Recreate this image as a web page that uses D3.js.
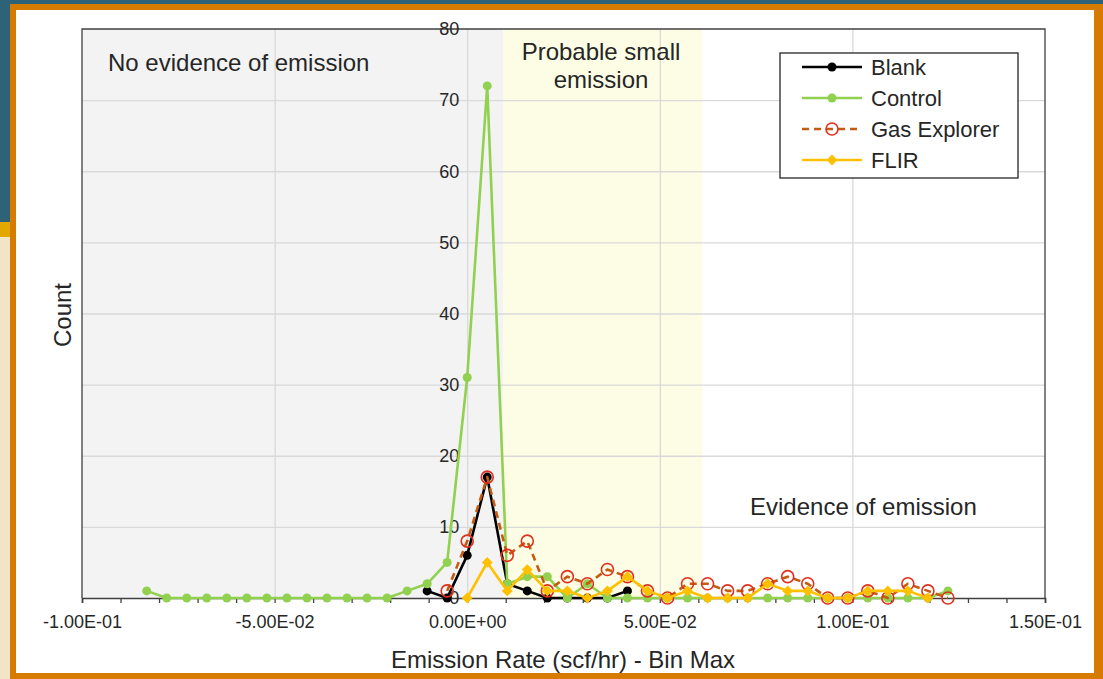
<!DOCTYPE html>
<html>
<head>
<meta charset="utf-8">
<script src="https://cdn.jsdelivr.net/npm/d3@7"></script>
<style>
	body { margin: 0; background: #2d6378; }
	text { font-family: 'Liberation Sans', Arial, sans-serif; fill: #262626; }
</style>
</head>
<body>
<div id="chart"></div>
<script>
// bin max values (scf/hr)
const binMax = [-0.0832, -0.0780, -0.0728, -0.0676, -0.0624, -0.0572, -0.0520, -0.0468, -0.0416, -0.0364,
	-0.0312, -0.0260, -0.0208, -0.0156, -0.0104, -0.0052, 0, 0.0052, 0.0104, 0.0156,
	0.0208, 0.0260, 0.0312, 0.0364, 0.0416, 0.0468, 0.0520, 0.0572, 0.0624, 0.0676,
	0.0728, 0.0780, 0.0832, 0.0884, 0.0936, 0.0988, 0.1040, 0.1092, 0.1144, 0.1196, 0.1248];

// counts per bin, null = no point
const blank = [null, null, null, null, null, null, null, null, null, null,
	null, null, null, null, 1, 0, 6, 17, 2, 1,
	0, 0, 0, 0, 1, null, null, null, null, null,
	null, null, null, null, null, null, null, null, null, null, null];
const control = [1, 0, 0, 0, 0, 0, 0, 0, 0, 0,
	0, 0, 0, 1, 2, 5, 31, 72, 2, 3,
	3, 0, 2, 0, 0, 0, 0, 0, 0, 0,
	0, 0, 0, 0, 0, 0, 0, 0, 0, 0, 1];
const gasExplorer = [null, null, null, null, null, null, null, null, null, null,
	null, null, null, null, null, 1, 8, 17, 6, 8,
	1, 3, 2, 4, 3, 1, 0, 2, 2, 1,
	1, 2, 3, 2, 0, 0, 1, 0, 2, 1, 0];
const flir = [null, null, null, null, null, null, null, null, null, null,
	null, null, null, null, null, null, 0, 5, 1, 4,
	1, 1, 0, 1, 3, 1, 0, 1, 0, 0,
	0, 2, 1, 1, 0, 0, 1, 1, 1, 0, null];

const xTicks = [-0.10, -0.05, 0, 0.05, 0.10, 0.15];
const xTickLabels = ['-1.00E-01', '-5.00E-02', '0.00E+00', '5.00E-02', '1.00E-01', '1.50E-01'];
const yTicks = [0, 10, 20, 30, 40, 50, 60, 70, 80];
const zones = [
	{ from: -0.10, to: 0.0094, color: '#f3f3f3' },
	{ from: 0.0094, to: 0.061, color: '#fdfde5' },
];

const series = [
	{ name: 'Blank', values: blank, color: '#000000', marker: 'dot' },
	{ name: 'Control', values: control, color: '#92d050', marker: 'dot' },
	{ name: 'Gas Explorer', values: gasExplorer, color: '#c55a11', marker: 'ring', dash: '7,5' },
	{ name: 'FLIR', values: flir, color: '#ffc000', marker: 'diamond' },
];

const width = 1103;
const height = 679;
const plot = { left: 82, right: 1045, top: 29, bottom: 598 };

const svg = d3.select('#chart').append('svg')
	.attr('width', width)
	.attr('height', height);

// slide background bits
svg.append('rect').attr('x', 0).attr('y', 0).attr('width', width).attr('height', height).attr('fill', '#2d6378');
svg.append('rect').attr('x', 0).attr('y', 222).attr('width', 12).attr('height', 15).attr('fill', '#e3a800');
svg.append('rect').attr('x', 0).attr('y', 237).attr('width', 12).attr('height', height - 237).attr('fill', '#f2e4c6');
svg.append('rect').attr('x', 10).attr('y', 4).attr('width', width - 10).attr('height', height - 4).attr('fill', '#d67b00');
svg.append('rect').attr('x', 16).attr('y', 10).attr('width', 1078).attr('height', 663).attr('fill', '#ffffff');

const x = d3.scaleLinear().domain([-0.10, 0.15]).range([plot.left, plot.right]);
const y = d3.scaleLinear().domain([0, 80]).range([plot.bottom, plot.top]);

// shaded zones
svg.append('g').selectAll('rect')
	.data(zones)
	.enter().append('rect')
		.attr('x', d => x(d.from))
		.attr('y', plot.top)
		.attr('width', d => x(d.to) - x(d.from))
		.attr('height', plot.bottom - plot.top)
		.attr('fill', d => d.color);

// gridlines
svg.append('g')
	.attr('transform', `translate(${plot.left},0)`)
	.call(d3.axisLeft(y).tickValues(yTicks.slice(1, -1)).tickSize(-(plot.right - plot.left)).tickFormat(''))
	.call(g => g.select('.domain').remove())
	.call(g => g.selectAll('line').attr('stroke', '#d9d9d9').attr('stroke-width', 1.3));
svg.append('g')
	.attr('transform', `translate(0,${plot.top})`)
	.call(d3.axisBottom(x).tickValues(xTicks.slice(1, -1)).tickSize(plot.bottom - plot.top).tickFormat(''))
	.call(g => g.select('.domain').remove())
	.call(g => g.selectAll('line').attr('stroke', '#d9d9d9').attr('stroke-width', 1.3));

// plot border (left, top, right)
svg.append('path')
	.attr('d', `M${plot.left},${plot.bottom}V${plot.top}H${plot.right}V${plot.bottom}`)
	.attr('fill', 'none')
	.attr('stroke', '#404040')
	.attr('stroke-width', 1.3);

// x axis: minor ticks every 0.01
const minorTicks = d3.range(-10, 16).map(i => i / 100);
svg.append('g')
	.attr('transform', `translate(0,${plot.bottom})`)
	.call(d3.axisBottom(x).tickValues(minorTicks).tickSize(5).tickFormat(''))
	.call(g => g.select('.domain').attr('stroke', '#404040').attr('stroke-width', 1.6))
	.call(g => g.selectAll('line').attr('stroke', '#404040').attr('stroke-width', 1.3));
svg.append('g')
	.attr('transform', `translate(0,${plot.bottom})`)
	.call(d3.axisBottom(x).tickValues(xTicks).tickSize(0).tickPadding(17).tickFormat((d, i) => xTickLabels[i]))
	.call(g => g.select('.domain').remove())
	.call(g => g.selectAll('text').style('font-size', '18px').attr('fill', '#262626'));

// y axis labels, sitting at x = 0
svg.append('g')
	.attr('transform', `translate(${x(0) - 8},0)`)
	.call(d3.axisLeft(y).tickValues(yTicks).tickSize(0).tickPadding(0))
	.call(g => g.select('.domain').remove())
	.call(g => g.selectAll('text').style('font-size', '18px').attr('fill', '#262626'));

// axis titles
svg.append('text')
	.attr('x', 563)
	.attr('y', 668)
	.attr('text-anchor', 'middle')
	.style('font-size', '24px')
	.text('Emission Rate (scf/hr) - Bin Max');
svg.append('text')
	.attr('transform', 'translate(71,315) rotate(-90)')
	.attr('text-anchor', 'middle')
	.style('font-size', '24px')
	.text('Count');

// zone labels
svg.append('text').attr('x', 108).attr('y', 71).style('font-size', '24px').text('No evidence of emission');
svg.append('text').attr('x', 601).attr('y', 60).attr('text-anchor', 'middle').style('font-size', '24px').text('Probable small');
svg.append('text').attr('x', 601).attr('y', 88).attr('text-anchor', 'middle').style('font-size', '24px').text('emission');
svg.append('text').attr('x', 750).attr('y', 515).style('font-size', '24px').text('Evidence of emission');

// series
const drawMarker = (sel, s) => {
	if (s.marker === 'dot') {
		sel.append('circle').attr('r', 4.5).attr('fill', s.color);
	} else if (s.marker === 'ring') {
		sel.append('circle').attr('r', 6).attr('fill', 'none').attr('stroke', '#e0301e').attr('stroke-width', 1.6);
	} else {
		sel.append('path').attr('d', d3.symbol(d3.symbolDiamond2, 75)()).attr('fill', s.color);
	}
};

const line = d3.line()
	.defined(d => d.v !== null)
	.x(d => x(d.x))
	.y(d => y(d.v));

series.forEach(s => {
	const pts = binMax.map((b, i) => ({ x: b, v: s.values[i] }));
	const g = svg.append('g').attr('class', 'series');
	g.append('path')
		.datum(pts)
		.attr('d', line)
		.attr('fill', 'none')
		.attr('stroke', s.color)
		.attr('stroke-width', 2.6)
		.attr('stroke-dasharray', s.dash || null)
		.attr('stroke-linejoin', 'round');
	g.selectAll('.pt')
		.data(pts.filter(d => d.v !== null))
		.enter().append('g')
			.attr('class', 'pt')
			.attr('transform', d => `translate(${x(d.x)},${y(d.v)})`)
			.each(function () { drawMarker(d3.select(this), s); });
});

// legend
const legend = svg.append('g').attr('transform', 'translate(780,53)');
legend.append('rect')
	.attr('width', 238).attr('height', 125)
	.attr('fill', '#ffffff')
	.attr('stroke', '#262626')
	.attr('stroke-width', 1.3);
series.forEach((s, i) => {
	const row = legend.append('g').attr('transform', `translate(0,${14 + i * 31})`);
	row.append('line')
		.attr('x1', 22).attr('x2', 82)
		.attr('stroke', s.color)
		.attr('stroke-width', 2.6)
		.attr('stroke-dasharray', s.dash || null);
	const m = row.append('g').attr('transform', 'translate(52,0)');
	drawMarker(m, s);
	row.append('text')
		.attr('x', 91)
		.attr('dy', '0.35em')
		.style('font-size', '22px')
		.text(s.name);
});
</script>
</body>
</html>
